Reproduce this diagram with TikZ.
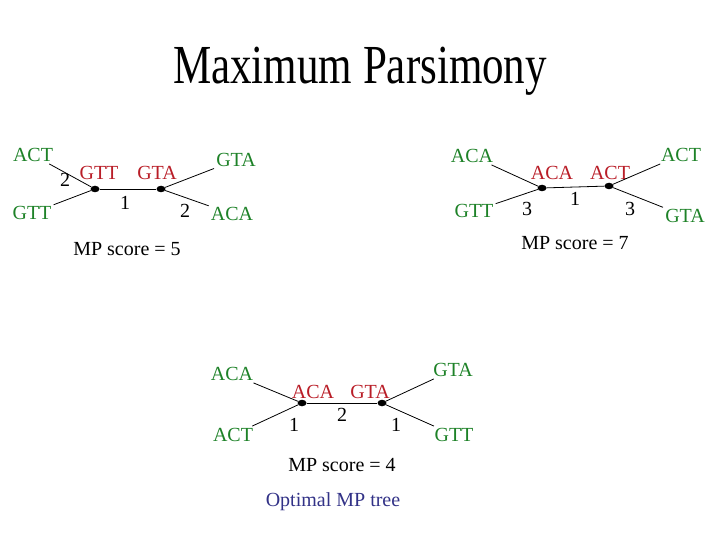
\documentclass[tikz,border=0pt]{standalone}
\usepackage{fontspec}
\usepackage{graphicx}
\setmainfont{Liberation Serif}
\usetikzlibrary{positioning, shapes.geometric}
\definecolor{leaf_green}{RGB}{30, 130, 40}
\definecolor{anc_red}{RGB}{185, 30, 40}
\definecolor{note_navy}{RGB}{50, 50, 135}

\begin{document}
\begin{tikzpicture}[
    x=1pt, y=-1pt,
    font=\fontsize{20}{24}\selectfont,
    % leaf sequences
    leaf/.style={
        text=leaf_green,
        inner sep=2pt
    },
    % reconstructed ancestor sequences
    anc/.style={
        text=anc_red,
        inner sep=1pt
    },
    % internal vertex
    vertex/.style={
        ellipse,
        fill=black,
        minimum width=9pt,
        minimum height=6.5pt,
        inner sep=0pt
    },
    blen/.style={inner sep=1pt},
    edge/.style={draw=black, line width=0.8pt},
    score/.style={inner sep=1pt}
]
    \useasboundingbox (0,0) rectangle (720,540);

    % ==========================================
    % TITLE
    % ==========================================
    \node (title) [anchor=base, font=\fontsize{43}{50}\selectfont] at (360,84)
        {\scalebox{1}[1.28]{Maximum Parsimony}};

    % ==========================================
    % 1. TREE (ACT,GTT | GTA,ACA)
    % ==========================================
    \node (t1_act) [leaf] at (33,155) {ACT};
    \node (t1_gtt) [leaf] at (32,213) {GTT};
    \node (t1_gta) [leaf] at (236,160) {GTA};
    \node (t1_aca) [leaf] at (232,214) {ACA};

    \node (t1_left) [vertex] at (95,189) {};
    \node (t1_right) [vertex] at (161,189) {};

    \node (t1_anc_left) [anc] at (99,173) {GTT};
    \node (t1_anc_right) [anc] at (157,173) {GTA};

    \draw [edge] (t1_act) -- (t1_left);
    \draw [edge] (t1_gtt) -- (t1_left);
    \draw [edge] (t1_left) -- (t1_right);
    \draw [edge] (t1_gta) -- (t1_right);
    \draw [edge] (t1_aca) -- (t1_right);

    \node (t1_b1) [blen] at (65,180) {2};
    \node (t1_b2) [blen] at (125,203) {1};
    \node (t1_b3) [blen] at (185,211) {2};

    \node (t1_score) [score] at (127,249) {MP score = 5};

    % ==========================================
    % 2. TREE (ACA,GTT | ACT,GTA)
    % ==========================================
    \node (t2_aca) [leaf] at (472,156) {ACA};
    \node (t2_gtt) [leaf] at (474,211) {GTT};
    \node (t2_act) [leaf] at (681,155) {ACT};
    \node (t2_gta) [leaf] at (685,216) {GTA};

    \node (t2_left) [vertex] at (542,188) {};
    \node (t2_right) [vertex] at (609,186) {};

    \node (t2_anc_left) [anc] at (552,173) {ACA};
    \node (t2_anc_right) [anc] at (610,173) {ACT};

    \draw [edge] (t2_aca) -- (t2_left);
    \draw [edge] (t2_gtt) -- (t2_left);
    \draw [edge] (t2_left) -- (t2_right);
    \draw [edge] (t2_act) -- (t2_right);
    \draw [edge] (t2_gta) -- (t2_right);

    \node (t2_b1) [blen] at (527,209) {3};
    \node (t2_b2) [blen] at (575,199) {1};
    \node (t2_b3) [blen] at (630,209) {3};

    \node (t2_score) [score] at (575,243) {MP score = 7};

    % ==========================================
    % 3. TREE (ACA,ACT | GTA,GTT) -- optimal
    % ==========================================
    \node (t3_aca) [leaf] at (232,374) {ACA};
    \node (t3_act) [leaf] at (233,435) {ACT};
    \node (t3_gta) [leaf] at (453,370) {GTA};
    \node (t3_gtt) [leaf] at (454,435) {GTT};

    \node (t3_left) [vertex] at (302,403) {};
    \node (t3_right) [vertex] at (382,403) {};

    \node (t3_anc_left) [anc] at (313,392) {ACA};
    \node (t3_anc_right) [anc] at (370,392) {GTA};

    \draw [edge] (t3_aca) -- (t3_left);
    \draw [edge] (t3_act) -- (t3_left);
    \draw [edge] (t3_left) -- (t3_right);
    \draw [edge] (t3_gta) -- (t3_right);
    \draw [edge] (t3_gtt) -- (t3_right);

    \node (t3_b1) [blen] at (294,425) {1};
    \node (t3_b2) [blen] at (342,415) {2};
    \node (t3_b3) [blen] at (396,425) {1};

    \node (t3_score) [score] at (342,465) {MP score = 4};
    \node (t3_note) [score, text=note_navy] at (333,502) {Optimal MP tree};

\end{tikzpicture}
\end{document}
